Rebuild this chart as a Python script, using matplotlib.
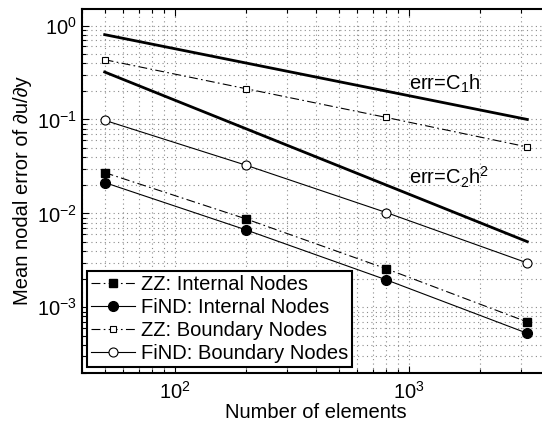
import numpy as np
import matplotlib
matplotlib.use('Agg')
import matplotlib.pyplot as plt
from matplotlib.ticker import LogLocator, NullFormatter

plt.rcParams['font.family'] = ['Liberation Sans', 'DejaVu Sans']
plt.rcParams['mathtext.fontset'] = 'custom'
plt.rcParams['mathtext.rm'] = 'Liberation Sans'
plt.rcParams['mathtext.it'] = 'Liberation Sans:italic'

# mesh sizes (number of elements)
n_elements = [50, 200, 800, 3200]

# mean nodal error of du/dy
zz_internal = [0.0272, 0.00877, 0.00257, 0.000698]
find_internal = [0.0213, 0.0067, 0.00196, 0.000529]
zz_boundary = [0.433, 0.213, 0.105, 0.051]
find_boundary = [0.098, 0.0327, 0.0102, 0.00297]

# reference rates: err = C1*h and err = C2*h^2, with h ~ N^(-1/2)
c1_start = 0.8
c2_start = 0.32

FS = 14.5


def plot_errors():
    '''
    Log-log plot of the nodal error against the number of elements.
    '''
    fig = plt.figure(figsize=(5.42, 4.26), dpi=100)
    ax = fig.add_axes([0.1513, 0.1244, 0.8635, 0.8545])

    n = np.array(n_elements, dtype=float)
    h_ratio = np.sqrt(n[0] / n)
    ax.loglog(n, c1_start * h_ratio, color='black', lw=2.0)
    ax.loglog(n, c2_start * h_ratio ** 2, color='black', lw=2.0)

    dashdot = (0, (8, 3, 1.5, 3))
    ax.loglog(n, zz_internal, color='black', lw=0.8, ls=dashdot,
              marker='s', ms=6, mfc='black', mec='black',
              label='ZZ: Internal Nodes')
    ax.loglog(n, find_internal, color='black', lw=0.8, ls='-',
              marker='o', ms=7, mfc='black', mec='black',
              label='FiND: Internal Nodes')
    ax.loglog(n, zz_boundary, color='black', lw=0.8, ls=dashdot,
              marker='s', ms=5, mfc='white', mec='black', mew=0.8,
              label='ZZ: Boundary Nodes')
    ax.loglog(n, find_boundary, color='black', lw=0.8, ls='-',
              marker='o', ms=6.5, mfc='white', mec='black', mew=0.8,
              label='FiND: Boundary Nodes')

    ax.text(1000, 0.237, 'err=C$_1$h', fontsize=FS, va='center', ha='left')
    ax.text(1000, 0.024, 'err=C$_2$h$^2$', fontsize=FS, va='center', ha='left')

    ax.set_xlim(40, 4000)
    ax.set_ylim(2e-4, 1.5)
    ax.xaxis.set_major_locator(LogLocator(base=10, numticks=10))
    ax.yaxis.set_major_locator(LogLocator(base=10, numticks=10))
    ax.xaxis.set_minor_locator(LogLocator(base=10, subs=np.arange(2, 10), numticks=10))
    ax.yaxis.set_minor_locator(LogLocator(base=10, subs=np.arange(2, 10), numticks=10))
    ax.xaxis.set_minor_formatter(NullFormatter())
    ax.yaxis.set_minor_formatter(NullFormatter())

    ax.grid(True, which='both', ls=(0, (1, 3)), color='0.55', lw=0.8)
    ax.tick_params(which='both', direction='in', top=True, right=True,
                   labelsize=FS, width=0.8)
    ax.tick_params(axis='x', which='both', pad=6)
    ax.tick_params(which='major', length=5)
    ax.tick_params(which='minor', length=3)
    for spine in ax.spines.values():
        spine.set_linewidth(1.5)

    ax.set_xlabel('Number of elements', fontsize=FS, labelpad=0)
    ax.set_ylabel('Mean nodal error of \u2202u/\u2202y', fontsize=FS, labelpad=4)

    leg = ax.legend(loc='lower left', bbox_to_anchor=(0.01, 0.016),
                    borderaxespad=0, fontsize=FS, numpoints=1,
                    handlelength=2.2, handletextpad=0.3, labelspacing=0.2,
                    borderpad=0.2, fancybox=False, framealpha=1,
                    edgecolor='black')
    leg.get_frame().set_linewidth(1.5)

    fig.savefig('out.png', dpi=100)


if __name__ == '__main__':
    plot_errors()
